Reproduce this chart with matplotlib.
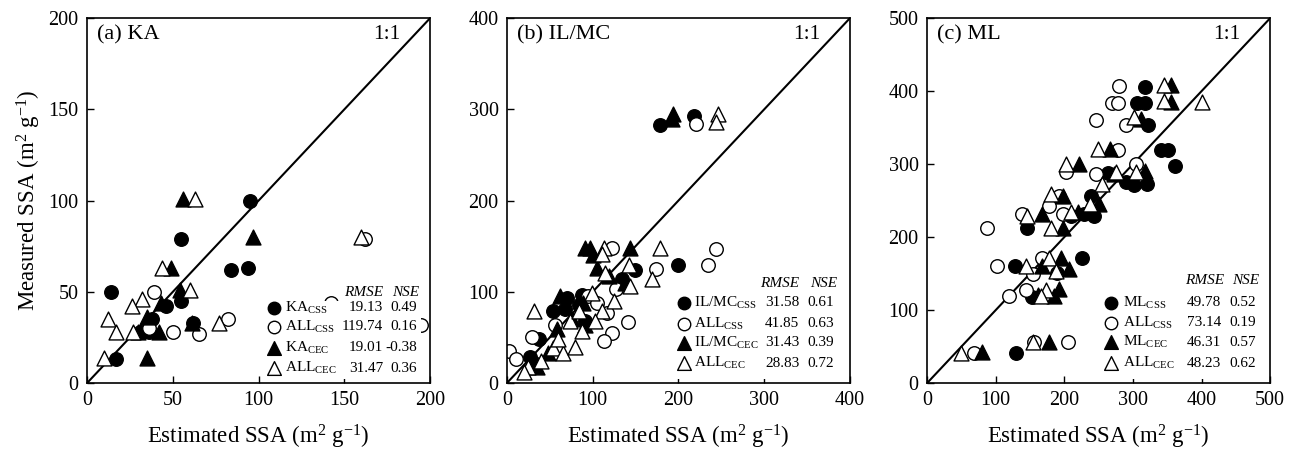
import matplotlib
matplotlib.use("Agg")
import matplotlib.pyplot as plt
from matplotlib.patches import Rectangle
import numpy as np

plt.rcParams['font.family'] = ['Liberation Serif', 'DejaVu Serif']
plt.rcParams['mathtext.fontset'] = 'custom'
plt.rcParams['mathtext.rm'] = 'Liberation Serif'
plt.rcParams['mathtext.it'] = 'Liberation Serif:italic'

# ---- (a) KA ----
ka_css_x = [95, 55, 84, 94, 14, 55, 46, 38, 62, 31, 36, 17]
ka_css_y = [100, 79, 62, 63, 50, 45, 42, 35, 33, 28, 28, 13]
ka_all_css_x = [39, 50, 65, 82, 162, 142, 195, 36]
ka_all_css_y = [50, 28, 27, 35, 79, 44, 32, 30]
ka_cec_x = [56, 97, 49, 54, 43, 35, 42, 61, 35, 30]
ka_cec_y = [101, 80, 63, 51, 44, 36, 28, 33, 14, 28]
ka_all_cec_x = [63, 160, 44, 60, 32, 26, 12, 17, 27, 77, 10]
ka_all_cec_y = [101, 80, 63, 51, 46, 42, 35, 28, 28, 33, 14]

# ---- (b) IL/MC ----
il_css_x = [179, 218, 200, 150, 88, 70, 54, 68, 84, 91, 37, 27, 32, 134]
il_css_y = [283, 293, 129, 124, 97, 93, 79, 81, 86, 68, 48, 29, 22, 114]
il_all_css_x = [221, 244, 235, 174, 141, 123, 123, 113, 117, 2, 29, 11, 56, 95, 127, 105]
il_all_css_y = [284, 147, 129, 125, 67, 55, 148, 46, 77, 35, 50, 26, 64, 95, 103, 88]
il_cec_x = [194, 193, 91, 97, 144, 105, 62, 89, 91, 58, 48, 138, 119, 35, 76, 100]
il_cec_y = [295, 289, 148, 148, 148, 126, 95, 88, 64, 59, 33, 110, 117, 18, 70, 140]
il_all_cec_x = [246, 244, 178, 169, 142, 144, 32, 113, 111, 111, 74, 88, 103, 54, 66, 40, 25,
                84, 115, 99, 20, 60, 125, 80]
il_all_cec_y = [295, 286, 148, 114, 130, 106, 79, 148, 141, 79, 68, 57, 68, 39, 33, 24, 18,
                79, 121, 99, 12, 48, 90, 40]

# ---- (c) ML ----
ml_css_x = [317, 306, 317, 322, 341, 351, 361, 263, 302, 320, 239, 244, 229, 210, 145, 128,
            226, 190, 153, 130, 290]
ml_css_y = [406, 384, 384, 353, 319, 319, 298, 288, 271, 273, 257, 229, 232, 229, 213, 160,
            171, 151, 118, 41, 275]
ml_all_css_x = [280, 270, 278, 246, 290, 278, 304, 246, 202, 193, 178, 139, 198, 88, 102, 168,
                154, 144, 120, 206, 68, 156]
ml_all_css_y = [407, 384, 384, 361, 353, 319, 300, 287, 289, 257, 242, 232, 232, 212, 161, 171,
                149, 128, 120, 57, 41, 57]
ml_cec_x = [356, 356, 312, 266, 222, 317, 273, 198, 167, 198, 251, 220, 195, 207, 168, 193,
            185, 161, 177, 80]
ml_cec_y = [408, 385, 362, 321, 300, 291, 287, 257, 232, 213, 245, 234, 172, 156, 160, 129,
            120, 121, 57, 43]
ml_all_cec_x = [346, 346, 400, 302, 249, 202, 305, 275, 255, 180, 210, 237, 146, 180, 178, 144,
                188, 173, 166, 155, 49]
ml_all_cec_y = [409, 386, 385, 364, 321, 300, 289, 289, 273, 259, 235, 245, 229, 213, 171, 161,
                154, 128, 120, 57, 41]

panels = [
    dict(title='(a) KA', lim=200, step=50, name='KA',
         series=[(ka_css_x, ka_css_y), (ka_all_css_x, ka_all_css_y),
                 (ka_cec_x, ka_cec_y), (ka_all_cec_x, ka_all_cec_y)],
         rmse=['19.13', '119.74', '19.01', '31.47'], nse=['0.49', '0.16', '-0.38', '0.36'],
         rows=[0.207, 0.154, 0.097, 0.041], head=0.248, box=(0.52, 0.012, 0.455, 0.212),
         mx=0.545, tx=0.578, rx=0.863, nx=0.962, hr=0.805, hn=0.93),
    dict(title='(b) IL/MC', lim=400, step=100, name='IL/MC',
         series=[(il_css_x, il_css_y), (il_all_css_x, il_all_css_y),
                 (il_cec_x, il_cec_y), (il_all_cec_x, il_all_cec_y)],
         rmse=['31.58', '41.85', '31.43', '28.83'], nse=['0.61', '0.63', '0.39', '0.72'],
         rows=[0.22, 0.163, 0.11, 0.055], head=0.274, box=(0.49, 0.012, 0.49, 0.245),
         mx=0.516, tx=0.545, rx=0.853, nx=0.955, hr=0.796, hn=0.925),
    dict(title='(c) ML', lim=500, step=100, name='ML',
         series=[(ml_css_x, ml_css_y), (ml_all_css_x, ml_all_css_y),
                 (ml_cec_x, ml_cec_y), (ml_all_cec_x, ml_all_cec_y)],
         rmse=['49.78', '73.14', '46.31', '48.23'], nse=['0.52', '0.19', '0.57', '0.62'],
         rows=[0.22, 0.165, 0.112, 0.055], head=0.281, box=(0.505, 0.012, 0.475, 0.245),
         mx=0.535, tx=0.572, rx=0.858, nx=0.96, hr=0.81, hn=0.93),
]

styles = [dict(marker='o', fc='black', s=95),
          dict(marker='o', fc='white', s=95),
          dict(marker='^', fc='black', s=115),
          dict(marker='^', fc='white', s=115)]

fig = plt.figure(figsize=(12.93, 4.55), dpi=100)
lefts = [0.0673, 0.392, 0.717]

for p, left in zip(panels, lefts):
    ax = fig.add_axes([left, 0.158, 0.2653, 0.802])
    lim = p['lim']
    ax.plot([0, lim], [0, lim], color='black', lw=1.5, zorder=1)
    for (xs, ys), st in zip(p['series'], styles):
        ax.scatter(xs, ys, marker=st['marker'], s=st['s'], facecolor=st['fc'],
                   edgecolor='black', linewidth=1.0, zorder=2)
    ax.set_xlim(0, lim)
    ax.set_ylim(0, lim)
    ticks = np.arange(0, lim + 1, p['step'])
    ax.set_xticks(ticks)
    ax.set_yticks(ticks)
    ax.tick_params(direction='in', labelsize=14.5, length=5, width=1, pad=6)
    for sp in ax.spines.values():
        sp.set_linewidth(1.2)
    ax.set_xlabel(r'Estimated SSA (m$^2$ g$^{-1}$)', fontsize=16.5, labelpad=9)
    ax.text(0.03, 0.955, p['title'], transform=ax.transAxes, fontsize=16, va='center', ha='left')
    ax.text(0.875, 0.955, '1:1', transform=ax.transAxes, fontsize=15.5, va='center', ha='center')

    # statistics legend on a white box
    bx, by, bw, bh = p['box']
    ax.add_patch(Rectangle((bx, by), bw, bh, transform=ax.transAxes, facecolor='white',
                           edgecolor='none', zorder=3))
    ax.text(p['hr'], p['head'], 'RMSE', transform=ax.transAxes, fontsize=11, style='italic',
            ha='center', va='center', zorder=4)
    ax.text(p['hn'], p['head'], 'NSE', transform=ax.transAxes, fontsize=11, style='italic',
            ha='center', va='center', zorder=4)
    labels = [p['name'] + r'$_{\rm CSS}$', r'ALL$_{\rm CSS}$',
              p['name'] + r'$_{\rm CEC}$', r'ALL$_{\rm CEC}$']
    for yy, st, lab, r, n in zip(p['rows'], styles, labels, p['rmse'], p['nse']):
        ax.scatter([p['mx']], [yy], transform=ax.transAxes, marker=st['marker'],
                   s=st['s'] * 0.85, facecolor=st['fc'], edgecolor='black', linewidth=1.0,
                   zorder=4, clip_on=False)
        ax.text(p['tx'], yy, lab, transform=ax.transAxes, fontsize=11, va='center', ha='left', zorder=4)
        ax.text(p['rx'], yy, r, transform=ax.transAxes, fontsize=11, va='center', ha='right', zorder=4)
        ax.text(p['nx'], yy, n, transform=ax.transAxes, fontsize=11, va='center', ha='right', zorder=4)
    if left == lefts[0]:
        ax.set_ylabel(r'Measured SSA (m$^2$ g$^{-1}$)', fontsize=16.5, labelpad=4)

fig.savefig('out.png', dpi=100)
